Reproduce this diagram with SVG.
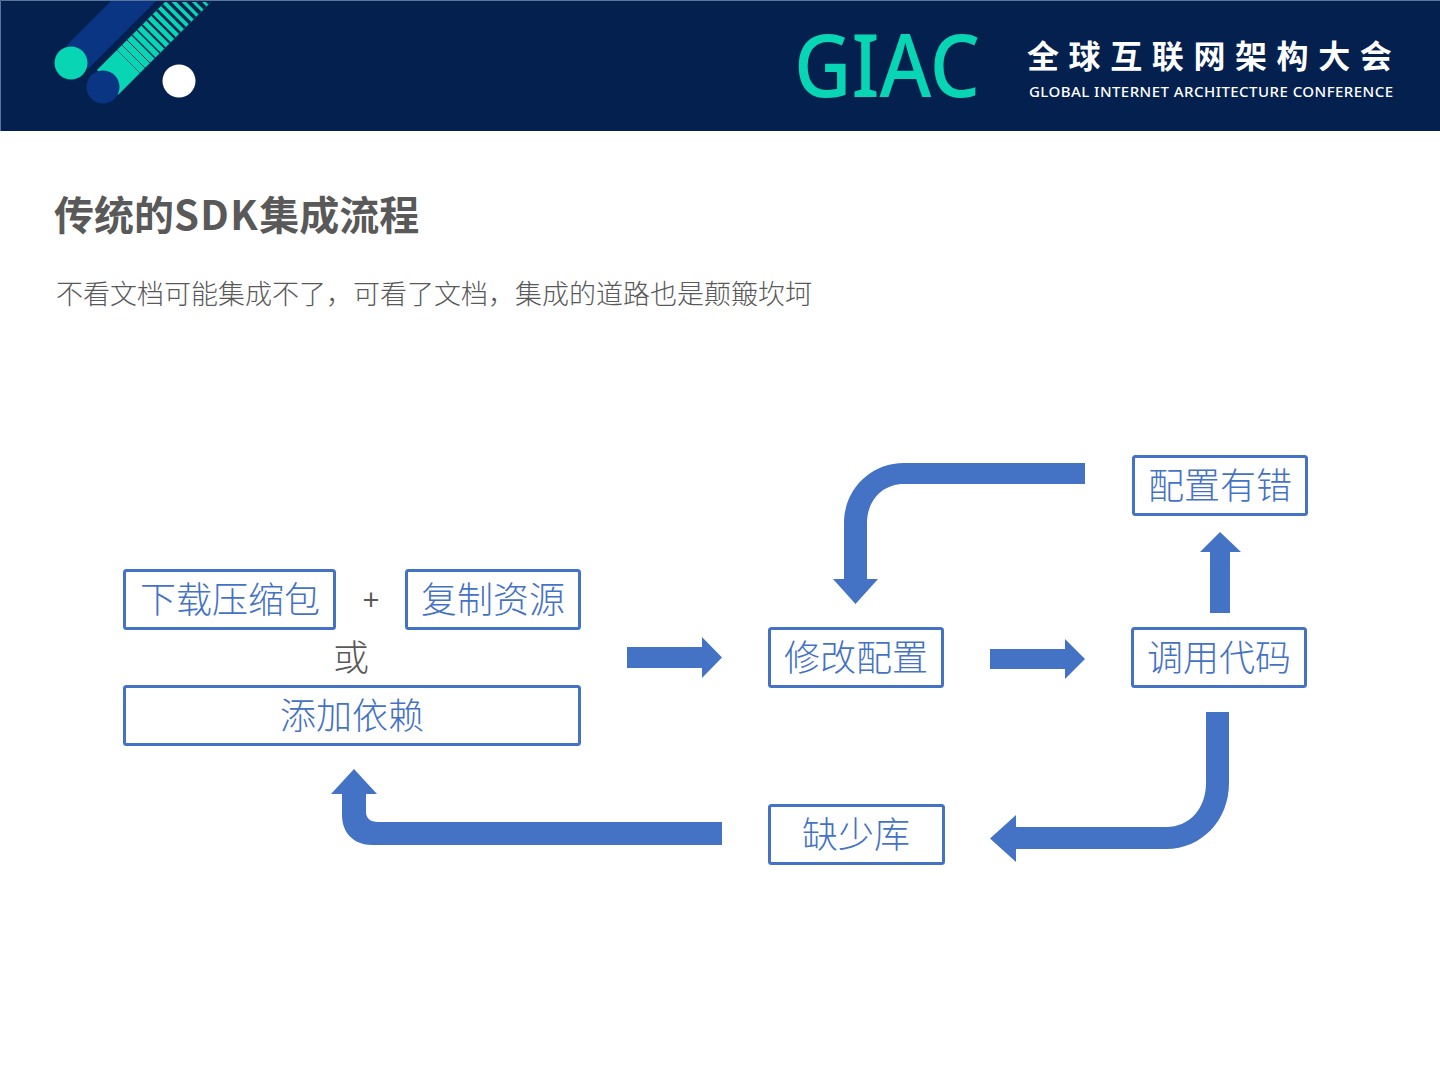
<svg xmlns="http://www.w3.org/2000/svg" width="1440" height="1080" viewBox="0 0 1440 1080">
<style>
.cjk{font-family:"Noto Sans CJK SC","Noto Sans",sans-serif}
.box{fill:#fff;stroke:#4472c4;stroke-width:3}
.lbl{font-size:36px;font-weight:300;fill:#4472c4;text-anchor:middle}
.arrow{fill:#4472c4}
.st{stroke:#03204f;fill:none}
</style>
<rect width="1440" height="1080" fill="#fff"/>
<g id="header">
<rect width="1440" height="131" fill="#03204f"/>
<path d="M67 45L112 0H157L88 69Z" fill="#0a3583"/>
<path d="M97 70L165 2H211L118 95Z" fill="#07d5b3"/>
<g class="st">
<path stroke-width=".6" d="M117 50L140 73"/><path stroke-width=".8" d="M122 45L145 68"/><path stroke-width="1" d="M127 40L150 63"/><path stroke-width="1.2" d="M132 35L155 58"/><path stroke-width="1.5" d="M137 30L160 53"/><path stroke-width="1.8" d="M142 25L165 48"/><path stroke-width="2.1" d="M147 20L170 43"/><path stroke-width="2.4" d="M152 15L175 38"/><path stroke-width="2.7" d="M157 10L180 33"/><path stroke-width="3" d="M162 5L185 28"/><path stroke-width="3.3" d="M167 0L190 23"/><path stroke-width="3.6" d="M172 -5L195 18"/><path stroke-width="3.9" d="M177 -10L200 13"/><path stroke-width="4.2" d="M182 -15L205 8"/><path stroke-width="4.5" d="M187 -20L210 3"/>
</g>
<circle cx="71" cy="63" r="16.5" fill="#07d5b3"/>
<circle cx="103" cy="87" r="16.5" fill="#0a3583"/>
<circle cx="179" cy="81" r="16.500" fill="#fff"/>
<path d="M.5 131V.5H1440" fill="none" stroke="#5a7399" stroke-width="1"/>
<text x="794" y="97" font-family="Noto Sans,sans-serif" font-size="88" font-weight="500" fill="#07d5b3" textLength="186" lengthAdjust="spacingAndGlyphs">GIAC</text>
<text class="cjk" x="1027" y="68" font-size="32" font-weight="700" fill="#fff" letter-spacing="9.6">全球互联网架构大会</text>
<text x="1029" y="97" font-family="Noto Sans,sans-serif" font-size="15" font-weight="500" fill="#fff" textLength="364" lengthAdjust="spacing">GLOBAL INTERNET ARCHITECTURE CONFERENCE</text>
</g>
<text class="cjk" x="54" y="230" font-size="40" font-weight="700" fill="#595959">传统的<tspan letter-spacing="1.4">SDK</tspan>集成流程</text>
<text class="cjk" x="56" y="304" font-size="27" font-weight="300" fill="#595959">不看文档可能集成不了&#xFF0C;可看了文档&#xFF0C;集成的道路也是颠簸坎坷</text>
<g id="connectors">
<path class="arrow" d="M627 647H702V637L722 657.5L702 678V668H627Z"/>
<path class="arrow" d="M990 649H1065V639L1085 659L1065 679V669H990Z"/>
<path class="arrow" d="M1210 613V552H1200L1220 532L1241 552H1230V613Z"/>
<path class="arrow" d="M1085 463H904C870 463 844 490 844 523V579H833L855.5 604L878 579H867V523C867 501 882 484 904 484H1085Z"/>
<path class="arrow" d="M1206 712H1229V783C1229 820 1202 849 1166 849H1016V862L990 838.5L1016 815V827H1166C1190 827 1206 808 1206 783Z"/>
<path class="arrow" d="M722 822H378C370 822 366 818 366 812V794H377L354 769L331 794H342V815C342 833 354 845 372 845H722Z"/>
</g>
<g id="n-download"><rect class="box" x="124.500" y="570.500" width="210" height="58" rx="2"/><text class="cjk lbl" x="230" y="613">下载压缩包</text></g>
<text x="371" y="610" font-family="Liberation Sans,sans-serif" font-size="29" fill="#595959" text-anchor="middle">+</text>
<g id="n-copy"><rect class="box" x="406.500" y="570.500" width="173" height="58" rx="2"/><text class="cjk lbl" x="493" y="613">复制资源</text></g>
<text class="cjk" x="351" y="671" font-size="36" font-weight="300" fill="#595959" text-anchor="middle">或</text>
<g id="n-dep"><rect class="box" x="124.500" y="686.500" width="455" height="58" rx="2"/><text class="cjk lbl" x="352" y="729">添加依赖</text></g>
<g id="n-modify"><rect class="box" x="769.500" y="628.500" width="173" height="58" rx="2"/><text class="cjk lbl" x="856" y="671">修改配置</text></g>
<g id="n-call"><rect class="box" x="1132.500" y="628.500" width="173" height="58" rx="2"/><text class="cjk lbl" x="1219" y="671">调用代码</text></g>
<g id="n-err"><rect class="box" x="1133.500" y="456.500" width="173" height="58" rx="2"/><text class="cjk lbl" x="1220" y="499">配置有错</text></g>
<g id="n-lack"><rect class="box" x="769.500" y="805.500" width="174" height="58" rx="2"/><text class="cjk lbl" x="856" y="848">缺少库</text></g>
</svg>
